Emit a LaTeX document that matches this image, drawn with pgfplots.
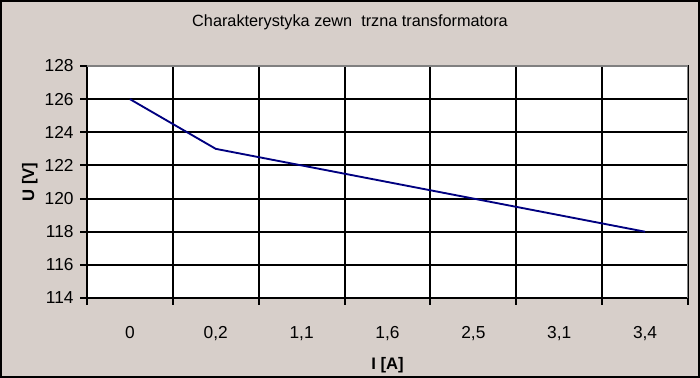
\documentclass[border=0pt]{standalone}
\usepackage{pgfplots}
\pgfplotsset{compat=1.18}
\usepackage{fontspec}
\setmainfont{Liberation Sans}
\definecolor{bg}{HTML}{D7CFCA}
\definecolor{navyline}{HTML}{000080}
\definecolor{bordergray}{HTML}{808080}
\begin{document}
\begin{tikzpicture}[x=0.75pt,y=0.75pt]
\fill[bg] (-87,-80) rectangle (613,298);
\draw[line width=1.5pt] (-86,-79) rectangle (612,297);
\begin{axis}[
  at={(0,0)}, anchor=south west,
  scale only axis, width=450.75pt, height=174pt,
  axis background/.style={fill=white},
  xmin=-0.5, xmax=6.5, ymin=114, ymax=128,
  ytick={114,116,...,128},
  xtick={0,...,6},
  xticklabels={{0},{0,2},{1,1},{1,6},{2,5},{3,1},{3,4}},
  minor xtick={-0.5,0.5,...,6.5},
  xminorgrids, ymajorgrids,
  grid style={black, line width=1.4pt},
  minor grid style={black, line width=1.4pt},
  axis line style={black, line width=1.4pt},
  tick align=outside,
  ytick pos=left, xtick pos=bottom,
  major tick length=5pt, minor tick length=5pt,
  tick style={black, line width=1.4pt},
  major x tick style={draw=none},
  ticklabel style={font=\fontsize{13}{15}\selectfont},
  /pgf/number format/assume math mode=true,
  xticklabel style={anchor=center, text height=9.5pt, text depth=3pt, yshift=-22pt},
  yticklabel style={xshift=-1.5pt},
  xlabel={\textbf{I [A]}},
  ylabel={\textbf{U [V]}},
  label style={font=\fontsize{12.5}{14}\selectfont},
  xlabel style={at={(axis description cs:0.5,-0.29)}, anchor=center},
  ylabel style={at={(axis description cs:-0.095,0.5)}, anchor=center},
  every axis title shift=0pt,
  title={Charakterystyka zewn\ \ trzna transformatora},
  title style={at={(axis description cs:0.4376,1.19)}, anchor=center, font=\fontsize{12.2}{14}\selectfont},
]
\addplot[navyline, line width=1.4pt, mark=none] coordinates {(0,126) (1,123) (2,122) (3,121) (4,120) (5,119) (6,118)};
\draw[bordergray, line width=1.4pt] (rel axis cs:0,1) -- (rel axis cs:1,1) -- (rel axis cs:1,0);
\end{axis}
\end{tikzpicture}
\end{document}
